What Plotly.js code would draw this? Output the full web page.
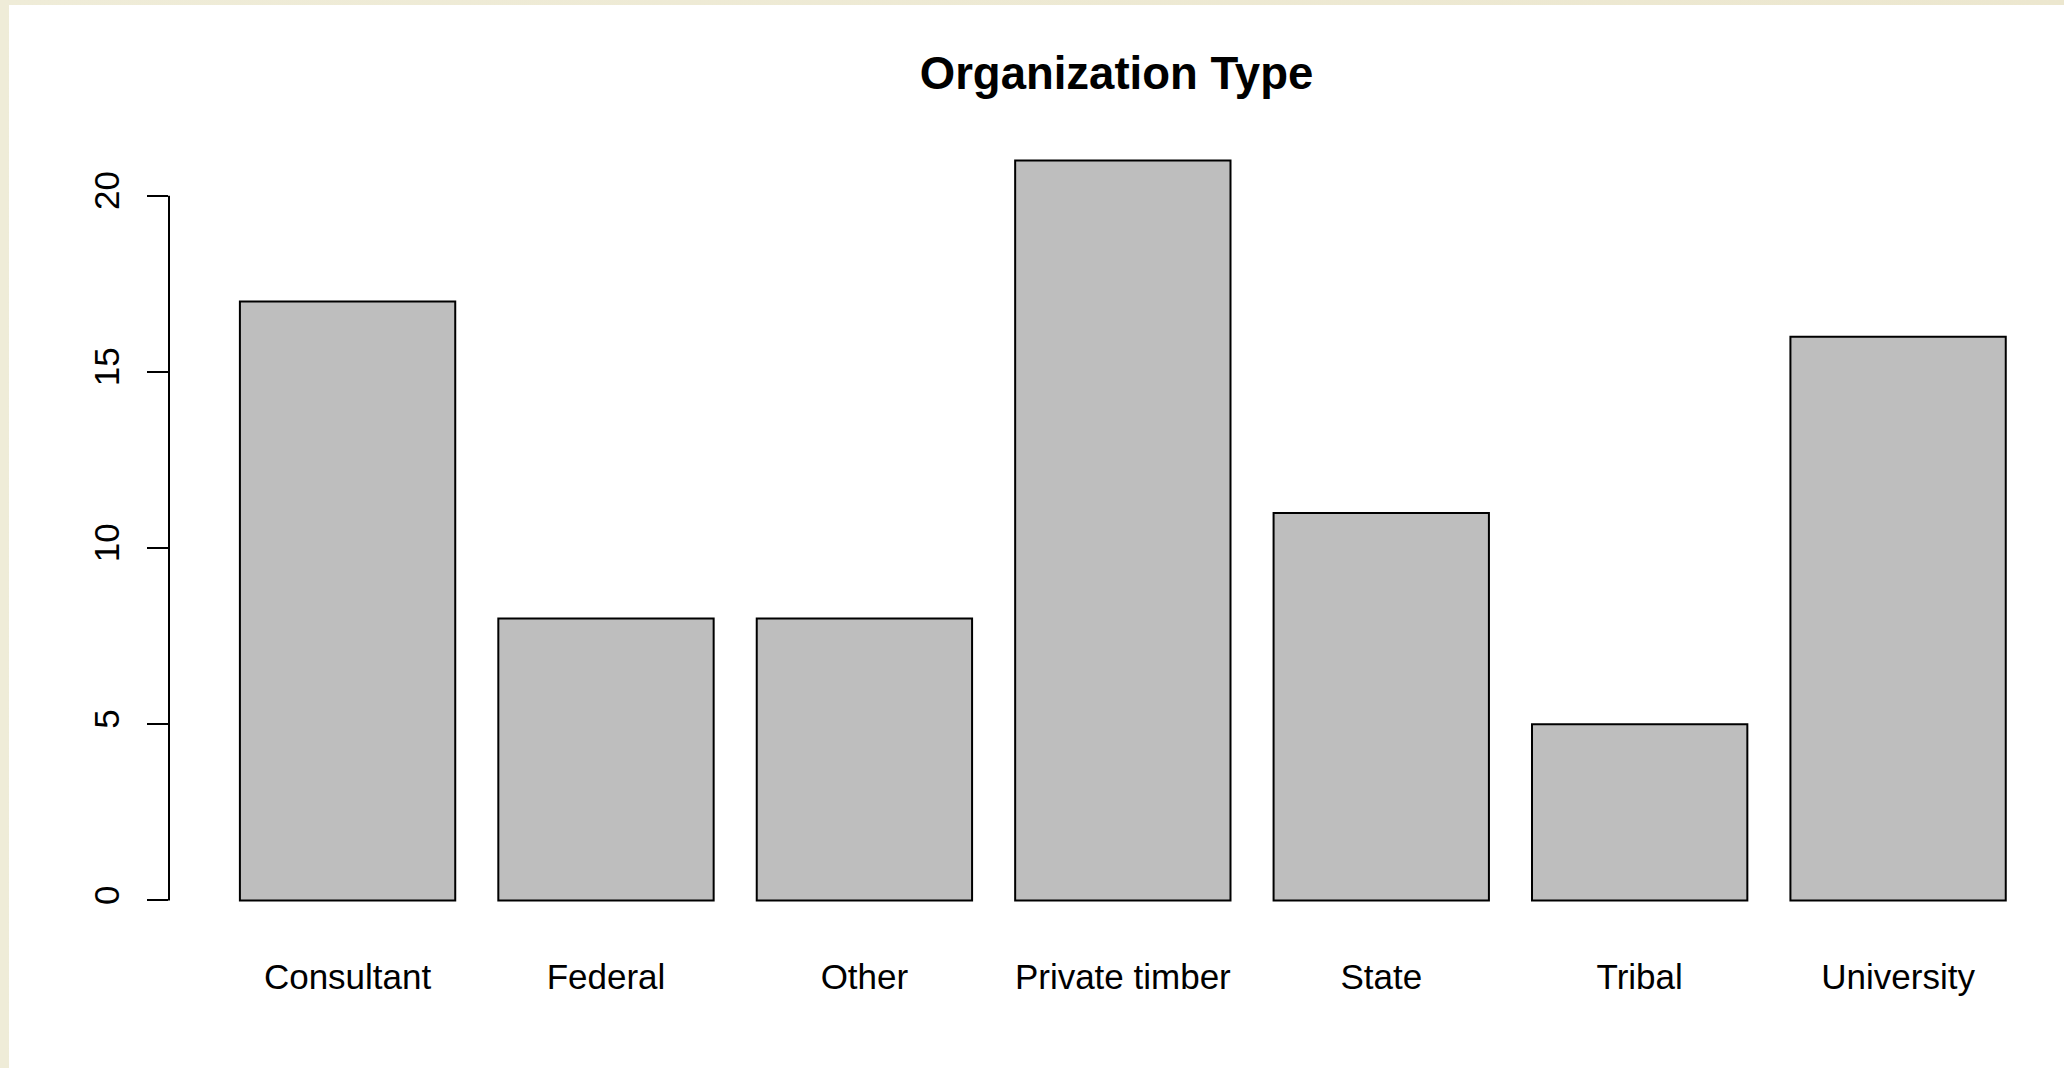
<!DOCTYPE html>
<html>
<head>
<meta charset="utf-8">
<script src="https://cdn.plot.ly/plotly-3.0.1.min.js"></script>
<style>
  html, body { margin: 0; padding: 0; width: 2064px; height: 1068px; overflow: hidden;
    background: linear-gradient(90deg, #efecd8, #ece7cf); }
  #chart { position: absolute; left: 9px; top: 5px; width: 2055px; height: 1063px; background: #ffffff; }
</style>
</head>
<body>
<div id="chart"></div>
<script>
const categories = ["Consultant", "Federal", "Other", "Private timber", "State", "Tribal", "University"];
const counts = [17, 8, 8, 21, 11, 5, 16];
const yTicks = [0, 5, 10, 15, 20];
const chartTitle = "Organization Type";

const trace = {
  type: "bar",
  x: categories,
  y: counts,
  marker: { color: "#bebebe", line: { color: "#000000", width: 2 } },
  hoverinfo: "x+y"
};

const layout = {
  width: 2055,
  height: 1063,
  paper_bgcolor: "#ffffff",
  plot_bgcolor: "#ffffff",
  margin: { l: 160, r: 0, t: 126, b: 138, pad: 0 },
  bargap: 0.1667,
  showlegend: false,
  font: { family: "Liberation Sans, Arial, sans-serif", color: "#000000", size: 35 },
  title: {
    text: "<b>" + chartTitle + "</b>",
    font: { family: "Liberation Sans, Arial, sans-serif", size: 45.5, color: "#000000" },
    x: 0.5, xref: "paper", xanchor: "center",
    y: 1 - 68 / 1063, yref: "container", yanchor: "middle"
  },
  xaxis: {
    type: "category",
    range: [-0.691, 6.642],
    showgrid: false, zeroline: false, showline: false,
    ticks: "",
    tickfont: { size: 35, color: "#000000" },
    ticklabelstandoff: 23,
    fixedrange: true
  },
  yaxis: {
    range: [-0.84, 21.84],
    tickvals: yTicks,
    ticktext: yTicks.map(String),
    showgrid: false, zeroline: false, showline: false,
    ticks: "outside", ticklen: 21, tickwidth: 2, tickcolor: "#000000",
    tickangle: -90,
    tickfont: { size: 35, color: "#000000" },
    ticklabelstandoff: 14,
    fixedrange: true
  },
  shapes: [{
    type: "line", xref: "paper", yref: "y",
    x0: 0, x1: 0, y0: yTicks[0], y1: yTicks[yTicks.length - 1],
    line: { color: "#000000", width: 2 }
  }]
};

Plotly.newPlot("chart", [trace], layout, { displayModeBar: false, staticPlot: true });
</script>
</body>
</html>
